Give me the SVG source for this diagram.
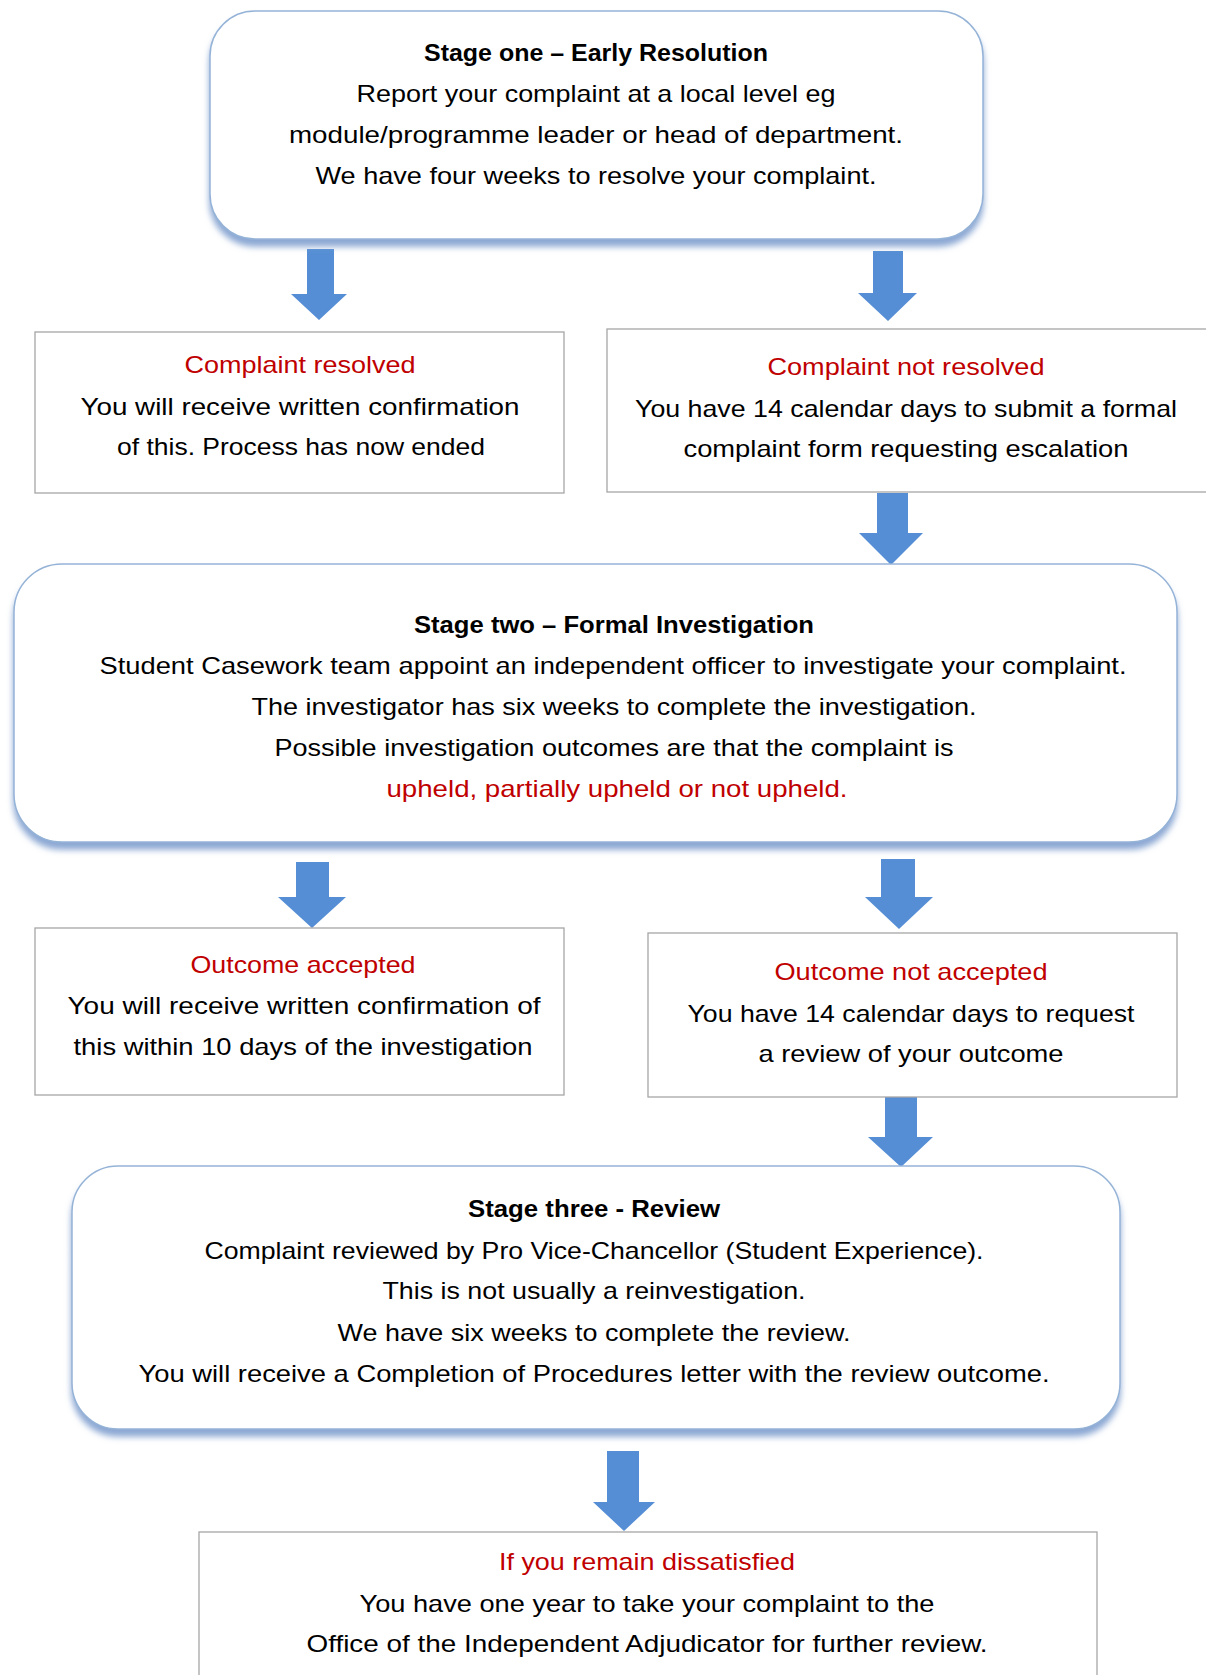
<svg xmlns="http://www.w3.org/2000/svg" width="1206" height="1675" viewBox="0 0 1206 1675">
<defs>
<filter id="sh" x="-5%" y="-10%" width="110%" height="125%">
<feDropShadow dx="0" dy="7" stdDeviation="3" flood-color="#7F9FCF" flood-opacity="0.9"/>
</filter>
<style>
.stage{fill:#FFFFFF;stroke:#95B3D7;stroke-width:1.5;filter:url(#sh)}
.plain{fill:#FFFFFF;stroke:#A6A6A6;stroke-width:1.3}
text{font-family:"Liberation Sans",Arial,sans-serif;font-size:24px;fill:#000000;text-anchor:middle}
.b{font-weight:bold}
.r{fill:#C00000}
.arrow{fill:#558ED5}
</style>
</defs>
<rect width="1206" height="1675" fill="#FFFFFF"/>
<g id="connectors">
<polygon class="arrow" points="307,249 334,249 334,294 347,294 319,320 291,294 307,294"/>
<polygon class="arrow" points="873,251 903,251 903,293 917,293 888,321 858,293 873,293"/>
<polygon class="arrow" points="877,493 908,493 908,533 923,533 891,565 859,533 877,533"/>
<polygon class="arrow" points="296,862 329,862 329,897 346,897 312,928 278,897 296,897"/>
<polygon class="arrow" points="881,859 915,859 915,897 933,897 899,929 865,897 881,897"/>
<polygon class="arrow" points="885,1097 917,1097 917,1137 933,1137 901,1167 868,1137 885,1137"/>
<polygon class="arrow" points="607,1451 639,1451 639,1502 655,1502 624,1531 593,1502 607,1502"/>
</g>
<g id="stage-one">
<rect class="stage" x="210" y="11" width="773" height="228" rx="45" ry="45"/>
<text class="b" x="596" y="61" textLength="344" lengthAdjust="spacingAndGlyphs">Stage one – Early Resolution</text>
<text x="596" y="102" textLength="479" lengthAdjust="spacingAndGlyphs">Report your complaint at a local level eg</text>
<text x="596" y="143" textLength="614" lengthAdjust="spacingAndGlyphs">module/programme leader or head of department.</text>
<text x="596" y="184" textLength="561" lengthAdjust="spacingAndGlyphs">We have four weeks to resolve your complaint.</text>
</g>
<g id="complaint-resolved">
<rect class="plain" x="35" y="332" width="529" height="161"/>
<text class="r" x="300" y="373" textLength="231" lengthAdjust="spacingAndGlyphs">Complaint resolved</text>
<text x="300" y="415" textLength="439" lengthAdjust="spacingAndGlyphs">You will receive written confirmation</text>
<text x="301" y="455" textLength="368" lengthAdjust="spacingAndGlyphs">of this. Process has now ended</text>
</g>
<g id="complaint-not-resolved">
<rect class="plain" x="607" y="329" width="610" height="163"/>
<text class="r" x="906" y="375" textLength="277" lengthAdjust="spacingAndGlyphs">Complaint not resolved</text>
<text x="906" y="417" textLength="542" lengthAdjust="spacingAndGlyphs">You have 14 calendar days to submit a formal</text>
<text x="906" y="457" textLength="445" lengthAdjust="spacingAndGlyphs">complaint form requesting escalation</text>
</g>
<g id="stage-two">
<rect class="stage" x="14" y="564" width="1163" height="278" rx="48" ry="48"/>
<text class="b" x="614" y="633" textLength="400" lengthAdjust="spacingAndGlyphs">Stage two – Formal Investigation</text>
<text x="613" y="674" textLength="1027" lengthAdjust="spacingAndGlyphs">Student Casework team appoint an independent officer to investigate your complaint.</text>
<text x="614" y="715" textLength="725" lengthAdjust="spacingAndGlyphs">The investigator has six weeks to complete the investigation.</text>
<text x="614" y="756" textLength="679" lengthAdjust="spacingAndGlyphs">Possible investigation outcomes are that the complaint is</text>
<text class="r" x="617" y="797" textLength="461" lengthAdjust="spacingAndGlyphs">upheld, partially upheld or not upheld.</text>
</g>
<g id="outcome-accepted">
<rect class="plain" x="35" y="928" width="529" height="167"/>
<text class="r" x="303" y="973" textLength="225" lengthAdjust="spacingAndGlyphs">Outcome accepted</text>
<text x="304" y="1014" textLength="473" lengthAdjust="spacingAndGlyphs">You will receive written confirmation of</text>
<text x="303" y="1055" textLength="459" lengthAdjust="spacingAndGlyphs">this within 10 days of the investigation</text>
</g>
<g id="outcome-not-accepted">
<rect class="plain" x="648" y="933" width="529" height="164"/>
<text class="r" x="911" y="980" textLength="273" lengthAdjust="spacingAndGlyphs">Outcome not accepted</text>
<text x="911" y="1022" textLength="447" lengthAdjust="spacingAndGlyphs">You have 14 calendar days to request</text>
<text x="911" y="1062" textLength="305" lengthAdjust="spacingAndGlyphs">a review of your outcome</text>
</g>
<g id="stage-three">
<rect class="stage" x="72" y="1166" width="1048" height="263" rx="46" ry="46"/>
<text class="b" x="594" y="1217" textLength="252" lengthAdjust="spacingAndGlyphs">Stage three - Review</text>
<text x="594" y="1259" textLength="779" lengthAdjust="spacingAndGlyphs">Complaint reviewed by Pro Vice-Chancellor (Student Experience).</text>
<text x="594" y="1299" textLength="423" lengthAdjust="spacingAndGlyphs">This is not usually a reinvestigation.</text>
<text x="594" y="1341" textLength="513" lengthAdjust="spacingAndGlyphs">We have six weeks to complete the review.</text>
<text x="594" y="1382" textLength="911" lengthAdjust="spacingAndGlyphs">You will receive a Completion of Procedures letter with the review outcome.</text>
</g>
<g id="remain-dissatisfied">
<rect class="plain" x="199" y="1532" width="898" height="170"/>
<text class="r" x="647" y="1570" textLength="296" lengthAdjust="spacingAndGlyphs">If you remain dissatisfied</text>
<text x="647" y="1612" textLength="575" lengthAdjust="spacingAndGlyphs">You have one year to take your complaint to the</text>
<text x="647" y="1652" textLength="681" lengthAdjust="spacingAndGlyphs">Office of the Independent Adjudicator for further review.</text>
</g>
</svg>
